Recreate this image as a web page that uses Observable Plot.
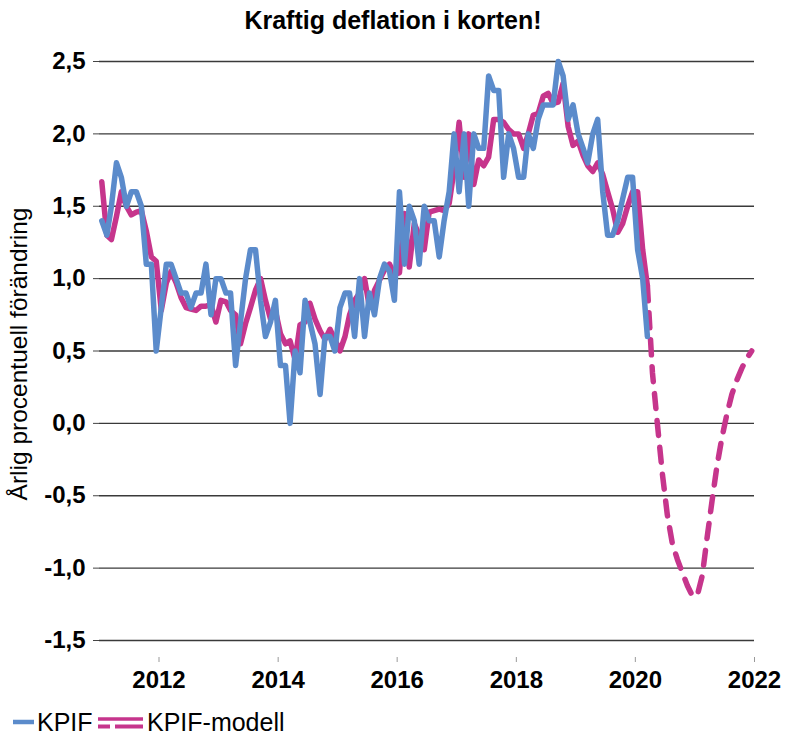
<!DOCTYPE html>
<html>
<head>
<meta charset="utf-8">
<script src="https://cdn.jsdelivr.net/npm/d3@7"></script>
<script src="https://cdn.jsdelivr.net/npm/@observablehq/plot@0.6"></script>
<style>
  html, body { margin: 0; padding: 0; background: #fff; }
  body { position: relative; width: 786px; height: 736px; font-family: "Liberation Sans", Arial, sans-serif; color: #000; }
  #title { height: 38px; line-height: 40px; text-align: center; font-weight: bold; font-size: 25px; }
  #chart svg { display: block; }
  #legend { position: absolute; left: 0; top: 706px; width: 786px; height: 32px; font-size: 25px; }
  #legend .item { position: absolute; top: 0; height: 32px; line-height: 32px; white-space: nowrap; }
  #legend svg { position: absolute; top: 0; }
</style>
</head>
<body>
<div id="title"></div>
<div id="chart"></div>
<div id="legend"></div>
<script>
// ---------- data ----------
const titleText = "Kraftig deflation i korten!";
const yLabel = "Årlig procentuell förändring";
const seriesNames = ["KPIF", "KPIF-modell"];
const startYear = 2011;          // first monthly observation: Jan 2011
const forecastStartIndex = 110;  // Mar 2020, where the dashed model forecast begins

// KPIF, monthly annual change, Jan 2011 – Mar 2020
const kpif = [
  1.4, 1.3, 1.5, 1.8, 1.7, 1.5, 1.6, 1.6, 1.5, 1.1, 1.1, 0.5,
  0.8, 1.1, 1.1, 1.0, 0.9, 0.9, 0.8, 0.9, 0.9, 1.1, 0.75, 1.0,
  1.0, 0.9, 0.9, 0.4, 0.7, 1.0, 1.2, 1.2, 0.85, 0.6, 0.7, 0.85,
  0.4, 0.4, 0.0, 0.5, 0.35, 0.85, 0.7, 0.55, 0.2, 0.6, 0.6, 0.5,
  0.8, 0.9, 0.9, 0.6, 1.0, 0.6, 0.9, 0.75, 1.0, 1.1, 1.05, 0.85,
  1.6, 1.1, 1.5, 1.4, 1.1, 1.5, 1.4, 1.4, 1.15, 1.4, 1.6, 2.0,
  1.6, 2.0, 1.5, 2.0, 1.9, 1.9, 2.4, 2.3, 2.3, 1.7, 2.0, 1.9,
  1.7, 1.7, 2.0, 1.9, 2.1, 2.2, 2.2, 2.2, 2.5, 2.4, 2.1, 2.2,
  2.0, 1.9, 1.8, 2.0, 2.1, 1.6, 1.3, 1.3, 1.4, 1.55, 1.7, 1.7,
  1.2, 1.0, 0.6
];

// KPIF-modell (fitted), Jan 2011 – Mar 2020
const modell = [
  1.67, 1.3, 1.27, 1.43, 1.6, 1.5, 1.44, 1.46, 1.47, 1.33, 1.15, 1.12,
  0.78, 0.97, 1.05, 0.97, 0.87, 0.8, 0.79, 0.78, 0.81, 0.81, 0.82, 0.7,
  0.85, 0.84, 0.78, 0.75, 0.55, 0.69, 0.8, 0.92, 1.0, 0.85, 0.72, 0.78,
  0.62, 0.55, 0.57, 0.44, 0.68, 0.7, 0.83, 0.72, 0.64, 0.58, 0.65, 0.58,
  0.5, 0.6, 0.75, 0.85, 0.9, 1.0, 0.8, 0.92, 0.99, 1.06, 1.1, 1.03,
  1.04, 1.45, 1.08, 1.38, 1.3, 1.2, 1.46, 1.47, 1.48, 1.47, 1.52, 1.75,
  2.08, 1.7, 2.0, 1.65, 1.82, 1.78, 1.84, 2.1, 2.1, 2.08, 2.03, 2.0,
  2.0, 1.9, 2.0, 2.13, 2.14, 2.26, 2.28, 2.21, 2.22, 2.35, 2.05, 1.92,
  1.95, 1.85, 1.78, 1.74, 1.8, 1.72, 1.6, 1.48, 1.32, 1.38, 1.5, 1.6,
  1.6, 1.2, 0.95
];

// KPIF-modell forecast (dashed), Mar 2020 – Dec 2021
const prognos = [
  0.95, 0.35, 0.0, -0.35, -0.63, -0.83, -0.94, -1.03, -1.12, -1.19,
  -1.19, -1.05, -0.8, -0.54, -0.3, -0.1, 0.06, 0.2, 0.3, 0.38,
  0.45, 0.5
];

const yTicks = [-1.5, -1.0, -0.5, 0.0, 0.5, 1.0, 1.5, 2.0, 2.5];
const xTickYears = [2012, 2014, 2016, 2018, 2020, 2022];
const yDomain = [-1.5, 2.5];
const xDomainYears = [2011, 2022];

const colors = { kpif: "#5b8bcb", modell: "#c6358c" };

// ---------- build tables ----------
const monthDate = i => new Date(Date.UTC(startYear, i, 15));
const kpifData = kpif.map((v, i) => ({ date: monthDate(i), value: v }));
const modellData = modell.map((v, i) => ({ date: monthDate(i), value: v }));
const prognosData = prognos.map((v, i) => ({ date: monthDate(forecastStartIndex + i), value: v }));
const xTicks = xTickYears.map(y => new Date(Date.UTC(y, 0, 1)));

const sv = d3.formatLocale({ decimal: ",", thousands: " ", grouping: [3], currency: ["", " kr"], minus: "-" });
const fmtY = sv.format(".1f");

document.getElementById("title").textContent = titleText;

const FONT = "'Liberation Sans', Arial, sans-serif";

const chart = Plot.plot({
  width: 786,
  height: 667,
  marginTop: 23,
  marginBottom: 65,
  marginLeft: 99,
  marginRight: 32,
  style: { fontFamily: FONT, background: "#fff", color: "#000", overflow: "visible" },
  x: { type: "utc", domain: xDomainYears.map(y => new Date(Date.UTC(y, 0, 1))) },
  y: { domain: yDomain },
  marks: [
    Plot.gridY(yTicks, { stroke: "#3a3a3a", strokeOpacity: 1, strokeWidth: 1.3 }),
    Plot.axisY(yTicks, {
      tickFormat: fmtY, tickSize: 6, tickPadding: 8, fontSize: 24, fontWeight: "bold",
      stroke: "#444", label: null
    }),
    Plot.axisX(xTicks, {
      tickFormat: d => String(d.getUTCFullYear()), tickSize: 5, tickPadding: 8, dy: 17,
      fontSize: 24, fontWeight: "bold", stroke: "#999", label: null
    }),
    Plot.text([yLabel], { frameAnchor: "left", textAnchor: "middle", rotate: -90, dx: -80, dy: 3, fontSize: 24.5, fill: "#000" }),
    Plot.line(modellData, { x: "date", y: "value", stroke: colors.modell, strokeWidth: 5.5 }),
    Plot.line(prognosData, { x: "date", y: "value", stroke: colors.modell, strokeWidth: 5.5, strokeDasharray: "15,12" }),
    Plot.line(kpifData, { x: "date", y: "value", stroke: colors.kpif, strokeWidth: 5.5 })
  ]
});
document.getElementById("chart").appendChild(chart);

// ---------- legend ----------
const legend = document.getElementById("legend");
legend.innerHTML = `
  <svg width="24" height="32" style="left:12px"><line x1="1" x2="22" y1="16" y2="16" stroke="${colors.kpif}" stroke-width="4.5"/></svg>
  <span class="item" style="left:37px">${seriesNames[0]}</span>
  <svg width="48" height="32" style="left:97px">
    <line x1="1" x2="46" y1="13" y2="13" stroke="${colors.modell}" stroke-width="3.5"/>
    <line x1="1" x2="46" y1="20.5" y2="20.5" stroke="${colors.modell}" stroke-width="4" stroke-dasharray="12,5,40"/>
  </svg>
  <span class="item" style="left:147px">${seriesNames[1]}</span>
`;
</script>
</body>
</html>
